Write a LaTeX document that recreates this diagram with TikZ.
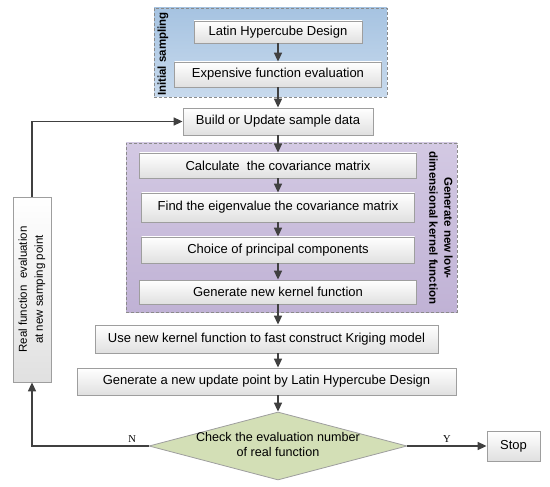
\documentclass[tikz,border=0pt]{standalone}
\usepackage{fontspec}
\setmainfont{Liberation Sans}
\newfontfamily\serifN{Liberation Serif}
\usetikzlibrary{arrows.meta,shapes.geometric}
\definecolor{boxline}{HTML}{9E9E9E}
\definecolor{boxbot}{HTML}{E0E0E0}
\definecolor{arrowc}{HTML}{404040}
\definecolor{grpline}{HTML}{8A8A8A}
\definecolor{blueT}{HTML}{A6C3E1}
\definecolor{blueB}{HTML}{C8DAED}
\definecolor{purT}{HTML}{D3C9E3}
\definecolor{purB}{HTML}{C0B2D5}
\definecolor{dgreen}{HTML}{D3DFB6}
\begin{document}
\begin{tikzpicture}[x=1pt,y=-1pt,
  proc/.style n args={2}{draw=boxline, line width=0.8pt, top color=white, bottom color=boxbot,
    minimum width=#1, minimum height=#2, inner sep=2pt, font=\fontsize{13}{15}\selectfont},
  grp/.style n args={2}{draw=grpline, line width=0.7pt, dash pattern=on 3pt off 2pt,
    minimum width=#1, minimum height=#2, inner sep=0pt},
  glabel/.style={font=\fontsize{11.5}{15}\selectfont\bfseries, inner sep=0pt, align=center},
  arr/.style={draw=arrowc, line width=1.6pt, -{Triangle[length=9pt,width=8pt]}},
  lab/.style={font=\serifN\fontsize{10.5}{12}\selectfont, text=black, inner sep=3pt}]
\useasboundingbox (0,0) rectangle (550,487);
% groups
\node[grp={233}{89}, top color=blueT, bottom color=blueB] (gInit) at (270.5,52.5) {};
\node[grp={331}{169}, top color=purT, bottom color=purB] (gGen) at (291.5,227.5) {};
\node[glabel, rotate=90] (lInit) at (163,54) {Initial sampling};
\node[glabel, rotate=-90] (lGen) at (441,228) {Generate new low-\\dimensional kernel function};
% process boxes
\node[proc={168}{22}] (lhd) at (278,32) {Latin Hypercube Design};
\node[proc={207}{25}] (exp) at (278,74.5) {Expensive function evaluation};
\node[proc={190}{27}] (build) at (278,121.5) {Build or Update sample data};
\node[proc={277}{25}] (calc) at (278,165.5) {Calculate\ \ the covariance matrix};
\node[proc={273}{29}] (find) at (278,207.5) {Find the eigenvalue the covariance matrix};
\node[proc={273}{26}] (choice) at (278,250) {Choice of principal components};
\node[proc={277}{24}] (gk) at (278,292) {Generate new kernel function};
\node[proc={343}{28}] (use) at (266.5,339) {Use new kernel function to fast construct Kriging model};
\node[proc={379}{27}] (upd) at (266.5,381.5) {Generate a new update point by Latin Hypercube Design};
\node[diamond, draw=boxline, line width=0.8pt, fill=dgreen, minimum width=258, minimum height=68,
  inner sep=0pt, aspect=3.8, font=\fontsize{12.6}{14.5}\selectfont] (dia) at (278,446)
  {\makebox[0pt]{\begin{tabular}{@{}c@{}}Check the evaluation number\\of real function\end{tabular}}};
\node[proc={53}{30}] (stop) at (513.5,446) {Stop};
\node[proc={185}{38}, rotate=90, align=center, font=\fontsize{11.5}{16}\selectfont] (real) at (32,289.5)
  {Real function\ \ evaluation\\at new samping point};
% connectors
\draw[arr] (lhd.south) -- (exp.north);
\draw[arr] (exp.south) -- (build.north);
\draw[arr] (build.south) -- (calc.north);
\draw[arr] (calc.south) -- (find.north);
\draw[arr] (find.south) -- (choice.north);
\draw[arr] (choice.south) -- (gk.north);
\draw[arr] (gk.south) -- (gk.south |- use.north);
\draw[arr] (gk.south |- use.south) -- (gk.south |- upd.north);
\draw[arr] (dia.north |- upd.south) -- (dia.north);
\draw[arr] (dia.east) -- (stop.west) node[lab, midway, above] {Y};
\draw[arr] (dia.west) -| (real.west) node[lab, pos=0.07, above] {N};
\draw[arr] (real.east) |- (build.west);
\end{tikzpicture}
\end{document}
